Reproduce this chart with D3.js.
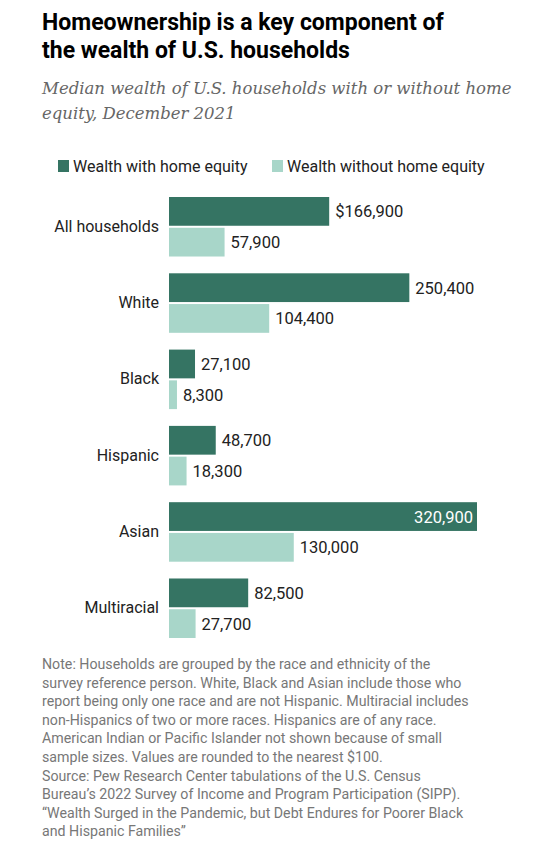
<!DOCTYPE html>
<html><head><meta charset="utf-8">
<script src="https://cdn.jsdelivr.net/npm/d3@7"></script>
<style>body{margin:0;background:#fff}</style></head>
<body><svg id="c" width="552" height="863"></svg>
<script>
const categories=["All households","White","Black","Hispanic","Asian","Multiracial"];
const withEquity=[166900,250400,27100,48700,320900,82500];
const withoutEquity=[57900,104400,8300,18300,130000,27700];
const seriesNames=["Wealth with home equity","Wealth without home equity"];
const colors=["#357463","#a8d6c9"];
const notes=["Note: Households are grouped by the race and ethnicity of the","survey reference person. White, Black and Asian include those who","report being only one race and are not Hispanic. Multiracial includes","non-Hispanics of two or more races. Hispanics are of any race.","American Indian or Pacific Islander not shown because of small","sample sizes. Values are rounded to the nearest $100.","Source: Pew Research Center tabulations of the U.S. Census","Bureau\u2019s 2022 Survey of Income and Program Participation (SIPP).","\u201cWealth Surged in the Pandemic, but Debt Endures for Poorer Black","and Hispanic Families\u201d"];
const svg=d3.select("#c");
const F="Roboto, 'Noto Sans', sans-serif";
svg.append("text").attr("x",42).attr("y",30).attr("font-family",F).attr("font-weight",700).attr("font-size",23).attr("fill","#000").text("Homeownership is a key component of");
svg.append("text").attr("x",42).attr("y",58).attr("font-family",F).attr("font-weight",700).attr("font-size",23).attr("fill","#000").text("the wealth of U.S. households");
["Median wealth of U.S. households with or without home","equity, December 2021"].forEach((t,i)=>svg.append("text").attr("x",42).attr("y",94+i*25).attr("font-family","'DejaVu Serif', 'Liberation Serif', serif").attr("font-style","italic").attr("font-size",16.5).attr("fill","#666").text(t));
const lg=[[58,seriesNames[0]],[272,seriesNames[1]]];
lg.forEach(([x,t],i)=>{svg.append("rect").attr("x",x).attr("y",160).attr("width",11).attr("height",12).attr("fill",colors[i]);
svg.append("text").attr("x",x+15).attr("y",172).attr("font-family",F).attr("font-size",16).attr("fill","#222").text(t);});
const x=d3.scaleLinear().domain([0,320900]).range([169,477]);
const y=d3.scaleBand().domain(categories).range([197,638]).paddingInner(0.22).paddingOuter(0);
const bh=y.bandwidth()/2-1;
const fmt=d3.format(",");
categories.forEach((c,i)=>{
 const y0=y(c);
 [[withEquity[i],0],[withoutEquity[i],1]].forEach(([v,s])=>{
  const yy=y0+s*(bh+2);
  svg.append("rect").attr("x",x(0)).attr("y",yy).attr("width",x(v)-x(0)).attr("height",bh).attr("fill",colors[s]);
  const lbl=(i===0&&s===0?"$":"")+fmt(v);
  const inside=v===320900;
  svg.append("text").attr("x",inside?x(v)-4:x(v)+6).attr("y",yy+bh/2+6).attr("text-anchor",inside?"end":"start").attr("font-family",F).attr("font-size",16.5).attr("fill",inside?"#fff":"#222").text(lbl);
 });
 svg.append("text").attr("x",159).attr("y",y0+bh+6).attr("text-anchor","end").attr("font-family",F).attr("font-size",16).attr("fill","#222").text(c);
});
notes.forEach((t,i)=>svg.append("text").attr("x",42).attr("y",669+i*18.6).attr("font-family",F).attr("font-size",14.2).attr("fill","#777").text(t));
</script></body></html>
